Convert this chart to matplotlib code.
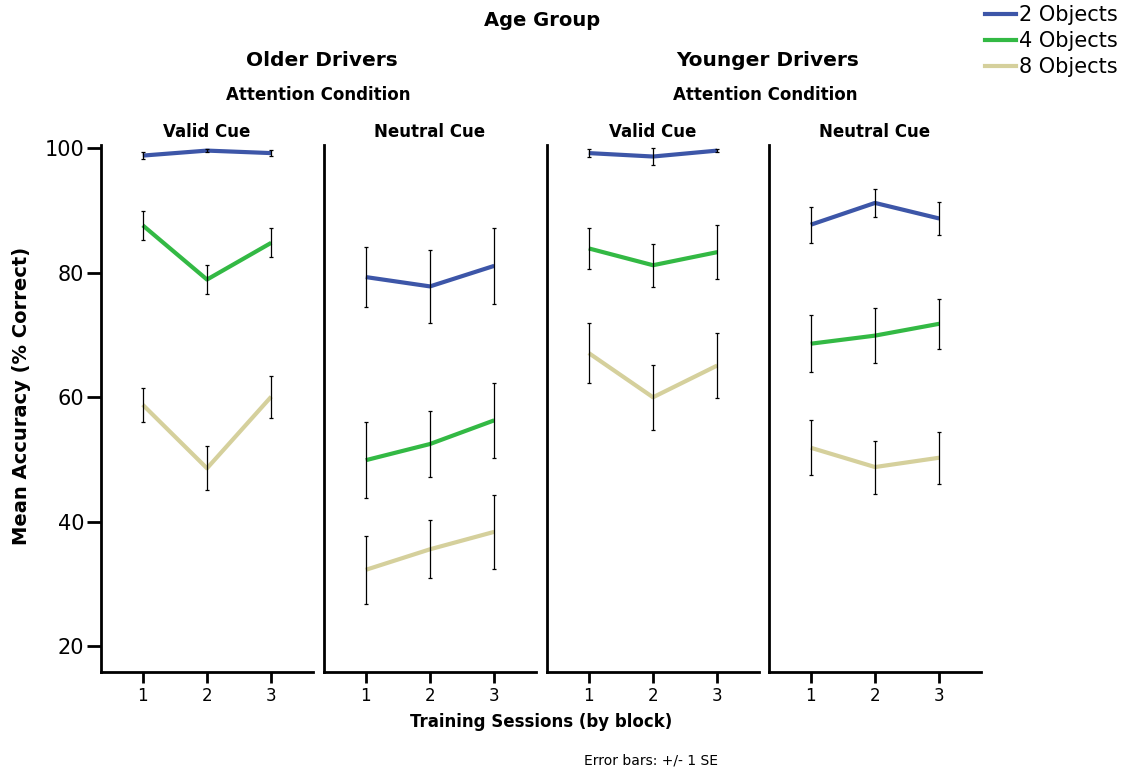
import matplotlib.pyplot as plt
from matplotlib.lines import Line2D

sessions = [1, 2, 3]
object_labels = ['2 Objects', '4 Objects', '8 Objects']
colors = ['#3d56a8', '#33b944', '#d5d09c']

# rows: 2, 4, 8 objects
older_valid_mean = [[98.8, 99.6, 99.2], [87.6, 78.9, 84.8], [58.8, 48.6, 60.1]]
older_valid_se = [[0.6, 0.3, 0.5], [2.3, 2.3, 2.35], [2.75, 3.55, 3.35]]
older_neutral_mean = [[79.3, 77.8, 81.1], [49.9, 52.5, 56.3], [32.3, 35.6, 38.4]]
older_neutral_se = [[4.8, 5.85, 6.15], [6.1, 5.3, 6.05], [5.5, 4.65, 5.95]]
younger_valid_mean = [[99.2, 98.65, 99.6], [83.9, 81.2, 83.3], [67.1, 60.0, 65.1]]
younger_valid_se = [[0.7, 1.4, 0.3], [3.25, 3.45, 4.3], [4.8, 5.2, 5.2]]
younger_neutral_mean = [[87.7, 91.2, 88.7], [68.6, 69.9, 71.8], [51.9, 48.8, 50.3]]
younger_neutral_se = [[2.9, 2.25, 2.65], [4.6, 4.4, 4.0], [4.45, 4.25, 4.15]]

panels = [
    ('Valid Cue', older_valid_mean, older_valid_se),
    ('Neutral Cue', older_neutral_mean, older_neutral_se),
    ('Valid Cue', younger_valid_mean, younger_valid_se),
    ('Neutral Cue', younger_neutral_mean, younger_neutral_se),
]

W, H = 1132, 774
fig = plt.figure(figsize=(W / 100, H / 100), dpi=100)

lefts = [101, 324, 547, 769]
pw = 212
top_px, bot_px = 145, 672

for i, (title, means, ses) in enumerate(panels):
    ax = fig.add_axes([lefts[i] / W, 1 - bot_px / H, pw / W, (bot_px - top_px) / H])
    for j in range(3):
        ax.plot(sessions, means[j], color=colors[j], lw=3, solid_capstyle='butt', zorder=2)
        ax.errorbar(sessions, means[j], yerr=ses[j], fmt='none', ecolor='black',
                    elinewidth=0.9, capsize=1.5, capthick=0.9, zorder=3)
    ax.set_xlim(0.35, 3.65)
    ax.set_ylim(15.9, 100.5)
    ax.set_xticks(sessions)
    ax.set_xticklabels(['1', '2', '3'], fontsize=12)
    for s in ['top', 'right']:
        ax.spines[s].set_visible(False)
    for s in ['left', 'bottom']:
        ax.spines[s].set_linewidth(2)
    ax.tick_params(axis='x', length=8, width=2, pad=3)
    if i == 0:
        ax.set_yticks([20, 40, 60, 80, 100])
        ax.tick_params(axis='y', length=10, width=2, labelsize=15, pad=2)
    else:
        ax.set_yticks([])
    ax.set_title(title, fontsize=12, fontweight='bold', pad=6)

fig.text(542 / W, 1 - 20 / H, 'Age Group', ha='center', va='center', fontsize=14, fontweight='bold')
fig.text(322 / W, 1 - 60 / H, 'Older Drivers', ha='center', va='center', fontsize=14.5, fontweight='bold')
fig.text(768 / W, 1 - 60 / H, 'Younger Drivers', ha='center', va='center', fontsize=14.5, fontweight='bold')
fig.text(318 / W, 1 - 95 / H, 'Attention Condition', ha='center', va='center', fontsize=12, fontweight='bold')
fig.text(765 / W, 1 - 95 / H, 'Attention Condition', ha='center', va='center', fontsize=12, fontweight='bold')
fig.text(22 / W, 1 - 396 / H, 'Mean Accuracy (% Correct)', rotation=90, ha='center', va='center',
         fontsize=14, fontweight='bold')
fig.text(541 / W, 1 - 722 / H, 'Training Sessions (by block)', ha='center', va='center',
         fontsize=12, fontweight='bold')
fig.text(651 / W, 1 - 761 / H, 'Error bars: +/- 1 SE', ha='center', va='center', fontsize=10)

handles = [Line2D([], [], color=c, lw=3) for c in colors]
fig.legend(handles, object_labels, loc='upper right', bbox_to_anchor=(1.0, 1.012),
           frameon=False, fontsize=15, handlelength=1.45, handletextpad=0.15,
           labelspacing=0.28, borderaxespad=0.3)

fig.savefig('out.png', dpi=100)
